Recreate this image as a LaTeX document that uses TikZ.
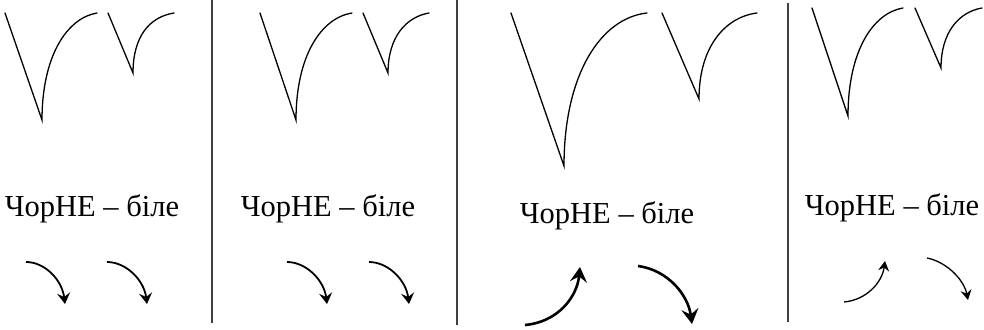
\documentclass[tikz,border=0pt]{standalone}
\usepackage{fontspec}
\setmainfont{Liberation Serif}
\usetikzlibrary{arrows.meta}

\begin{document}
\begin{tikzpicture}[x=1pt,y=-1pt,
    vline/.style={line width=1.3pt, line cap=round},
    divider/.style={line width=1.3pt, black!75},
    word/.style={anchor=base, inner sep=0pt, font=\fontsize{30.5}{32}\selectfont},
    turn/.style={line width=1.8pt, -{Stealth[length=11pt,width=13pt,inset=4pt]}},
    bigturn/.style={line width=2.6pt, -{Stealth[length=15pt,width=17pt,inset=5.5pt]}},
    smallturn/.style={line width=1.3pt, -{Stealth[length=10pt,width=11pt,inset=3.5pt]}}]
    \useasboundingbox (0,0) rectangle (984,329);
    % dividers
    \draw[divider] (212,0) -- (212,323);
    \draw[divider] (457,0) -- (457,325);
    \draw[divider] (788,3) -- (788,322);
    % panel 1
    \draw[vline] (5,13) -- (42,120) .. controls (42,56) and (67,18) .. (97,13);
    \draw[vline] (108,13) -- (133,73) .. controls (133,37) and (149,17) .. (174,13);
    \node[word] (txt1) at (92,216) {ЧорНЕ – біле};
    \draw[turn] (26,262) .. controls (45,262) and (62,280) .. (65,304);
    \draw[turn] (107,262) .. controls (126,262) and (144,280) .. (147,304);
    % panel 2
    \draw[vline] (260,13) -- (296,120) .. controls (296,56) and (321,18) .. (352,13);
    \draw[vline] (363,13) -- (388,73) .. controls (388,37) and (406,17) .. (429,13);
    \node[word] (txt2) at (328,216) {ЧорНЕ – біле};
    \draw[turn] (287,262) .. controls (306,262) and (324,280) .. (327,304);
    \draw[turn] (369,262) .. controls (388,262) and (406,280) .. (409,304);
    % panel 3
    \draw[vline] (511,13) -- (564,166) .. controls (564,74) and (601,18) .. (647,13);
    \draw[vline] (662,13) -- (699,99) .. controls (699,47) and (725,17) .. (757,13);
    \node[word] (txt3) at (607,223) {ЧорНЕ – біле};
    \draw[bigturn] (525,325) .. controls (558,322) and (577,297) .. (580,267);
    \draw[bigturn] (638,266) .. controls (668,270) and (688,295) .. (692,324);
    % panel 4
    \draw[vline] (812,8) -- (848,116) .. controls (848,51) and (873,13) .. (903,8);
    \draw[vline] (915,8) -- (941,68) .. controls (941,32) and (959,12) .. (982,8);
    \node[word] (txt4) at (892,215) {ЧорНЕ – біле};
    \draw[smallturn] (844,302) .. controls (866,300) and (882,283) .. (885,261);
    \draw[smallturn] (927,258) .. controls (947,262) and (964,280) .. (968,300);
\end{tikzpicture}
\end{document}
